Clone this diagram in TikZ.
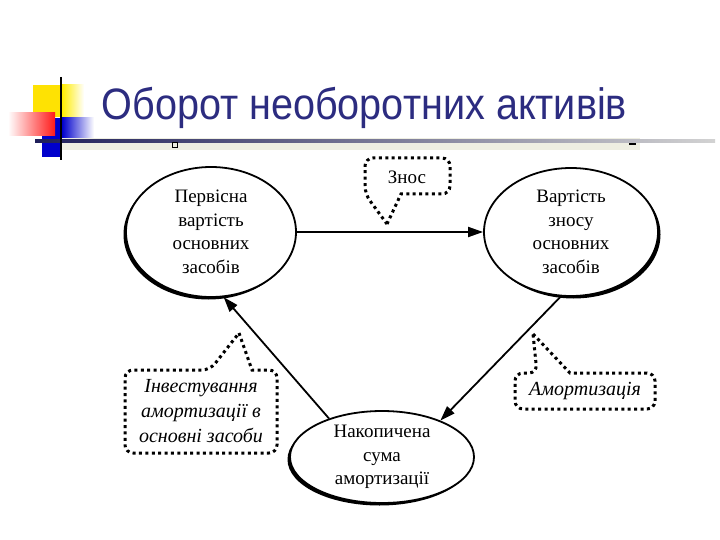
\documentclass[tikz,border=0pt]{standalone}
\usepackage{fontspec}
\setmainfont{Liberation Serif}
\newfontfamily\titlefont[FakeStretch=0.90]{Liberation Sans}
\usetikzlibrary{
  arrows.meta,
  calc,
  positioning,
  shapes.geometric,
  shadows
}
\definecolor{titleblue}{RGB}{44,44,128}
\definecolor{paleband}{RGB}{238,238,226}
\tikzset{
  line join=round,
  stage/.style={draw, ellipse, line width=1.8pt, fill=white, align=center, inner sep=0pt,
    font=\fontsize{19}{23.5}\selectfont},
  flow/.style={-{Triangle[length=15pt,width=10pt]}, line width=1.8pt},
  calloutline/.style={line width=3pt, line cap=butt, dash pattern=on 3pt off 3.4pt},
  note/.style={align=center, font=\itshape\fontsize{20}{25}\selectfont},
  shade left/.style={drop shadow={shadow xshift=-2.5pt, shadow yshift=-2.5pt, opacity=1, fill=black}},
  shade right/.style={drop shadow={shadow xshift=2.5pt, shadow yshift=-2.5pt, opacity=1, fill=black}}
}

\begin{document}
\begin{tikzpicture}[x=1pt,y=-1pt]
  \useasboundingbox[fill=white] (0,0) rectangle (720,540);

  % slide decoration
  \fill[yellow!85!orange] (33,85) rectangle (62,117);
  \shade[left color=yellow!85!orange, right color=white] (62,85) rectangle (84,117);
  \fill[blue!80!black] (42,118) rectangle (62,157);
  \shade[left color=blue!80!black, right color=white] (62,118) rectangle (94,142);
  \shade[left color=white, right color=red!90] (8,113) rectangle (55,136);
  \fill[paleband] (62,138) rectangle (640,150);
  \shade[left color=titleblue!70!black, right color=gray!35] (35,139.5) rectangle (715,142.5);
  \draw[line width=2.4pt] (61,77) -- (61,160);
  \draw[line width=1pt] (172,143) rectangle (177,148);
  \draw[line width=1.4pt] (629,144) -- (636,144);

  \node[font=\titlefont\fontsize{44}{44}\selectfont, text=titleblue, anchor=base west]
    (title) at (98,120) {Оборот необоротних активів};

  % ellipses
  \node[stage, shade left, minimum width=170pt, minimum height=130pt]
    (initial) at (211,232) {Первісна\\вартість\\основних\\засобів};
  \node[stage, shade right, minimum width=174pt, minimum height=128pt]
    (worn) at (571,232) {Вартість\\зносу\\основних\\засобів};
  \node[stage, shade left, minimum width=184pt, minimum height=92pt]
    (accum) at (382,457) {Накопичена\\сума\\амортизації};

  \draw[flow] (initial.east) -- (worn.west);
  \draw[flow] (accum.144) -- (initial.-79);
  \draw[flow] (worn.-99) -- (accum.32);

  % callouts
  \node[font=\fontsize{19}{22}\selectfont] (wear) at (407,177) {Знос};
  \draw[calloutline] (387,224) -- (401,194) [rounded corners=8pt] -- (450,194) -- (450,158)
    -- (365,158) -- (365,194) [sharp corners] -- cycle;

  \node[note] (invest) at (201,411) {Інвестування\\амортизації в\\основні засоби};
  \draw[calloutline] (239,333) -- (252,370) [rounded corners=8pt] -- (277,370) -- (277,453)
    -- (125,453) -- (125,370) -- (210,370) [sharp corners] -- cycle;

  \node[note] (amort) at (585,391) {Амортизація};
  \draw[calloutline] (533,334) -- (570,373) [rounded corners=8pt] -- (655,373) -- (655,409)
    -- (515,409) -- (515,373) -- (537,373) [sharp corners] -- cycle;
\end{tikzpicture}
\end{document}
